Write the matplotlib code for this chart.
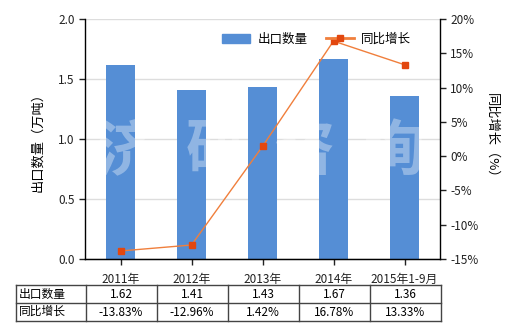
import matplotlib
matplotlib.use("Agg")
import matplotlib.pyplot as plt
from matplotlib.lines import Line2D
from matplotlib.patches import Patch

plt.rcParams['font.family'] = ['Noto Sans CJK SC', 'DejaVu Sans']

categories = ["2011年", "2012年", "2013年", "2014年", "2015年1-9月"]
export_qty = [1.62, 1.41, 1.43, 1.67, 1.36]
yoy_growth = [-13.83, -12.96, 1.42, 16.78, 13.33]
qty_labels = ["1.62", "1.41", "1.43", "1.67", "1.36"]
growth_labels = ["-13.83%", "-12.96%", "1.42%", "16.78%", "13.33%"]
series_names = ["出口数量", "同比增长"]

W, H = 520, 330
fig = plt.figure(figsize=(W / 100, H / 100), dpi=100)
ax = fig.add_axes([85 / W, 1 - 259 / H, 355 / W, 240 / H])
ax2 = ax.twinx()

bar_color = "#558ED5"
line_color = "#F07F3C"
marker_color = "#E2470F"

x = list(range(len(categories)))
ax.bar(x, export_qty, width=0.41, color=bar_color, zorder=2)
ax.set_ylim(0, 2.0)
ax.set_yticks([0, 0.5, 1.0, 1.5, 2.0])
ax.set_yticklabels(["0.0", "0.5", "1.0", "1.5", "2.0"])
ax.set_xlim(-0.5, len(categories) - 0.5)
ax.set_xticks(x)
ax.set_xticklabels(categories)
ax.grid(axis='y', color='#DDDDDD', linewidth=1, zorder=0)
ax.set_axisbelow(True)

ax2.plot(x, yoy_growth, color=line_color, linewidth=1, marker='s', markersize=5,
         markerfacecolor=marker_color, markeredgecolor=marker_color, zorder=5)
ax2.set_ylim(-15, 20)
ax2.set_yticks(range(-15, 21, 5))
ax2.set_yticklabels([f"{v}%" for v in range(-15, 21, 5)])

for a in (ax, ax2):
    a.spines['top'].set_visible(False)
    a.tick_params(labelsize=8.5, length=4, width=1, colors='#222222')
ax.spines['right'].set_visible(False)
ax2.spines['left'].set_visible(False)
for s in ('left', 'bottom'):
    ax.spines[s].set_linewidth(1)
ax2.spines['right'].set_linewidth(1)
ax.tick_params(axis='x', pad=6)

ax.set_ylabel("出口数量（万吨）", fontsize=9.5, labelpad=10)
ax2.set_ylabel("同比增长（%）", fontsize=9.5, rotation=-90, labelpad=14)

# watermark
wm = "济研咨询"
for i, ch in enumerate(wm):
    fig.text((127 + i * 89) / W, 1 - 152 / H, ch, fontsize=44, fontweight='bold',
             color='white', alpha=0.35, ha='center', va='center', zorder=10)

handles = [Patch(color=bar_color),
           Line2D([0], [0], color=line_color, linewidth=2, marker='s', markersize=5,
                  markerfacecolor=marker_color, markeredgecolor=marker_color)]
ax2.legend(handles, series_names, loc='upper right', bbox_to_anchor=(0.95, 0.99),
           ncol=2, frameon=False, fontsize=9, handlelength=2.2, columnspacing=1.5,
           handletextpad=0.6)

# table
left, first, colw = 15.5, 85.5, 71
top, mid, bot = 285, 303, 320.5
right = first + colw * len(categories)
lc = '#444444'
def fx(px): return px / W
def fy(py): return 1 - py / H
for py in (top, mid, bot):
    fig.add_artist(Line2D([fx(left), fx(right)], [fy(py), fy(py)], color=lc, linewidth=1))
for px in [left, first] + [first + colw * (i + 1) for i in range(len(categories))]:
    fig.add_artist(Line2D([fx(px), fx(px)], [fy(top), fy(bot)], color=lc, linewidth=1))
fig.text(fx(left + 3), fy((top + mid) / 2), series_names[0], fontsize=8.5, va='center', ha='left')
fig.text(fx(left + 3), fy((mid + bot) / 2), series_names[1], fontsize=8.5, va='center', ha='left')
for i in range(len(categories)):
    cx = first + colw * (i + 0.5)
    fig.text(fx(cx), fy((top + mid) / 2 + 1), qty_labels[i], fontsize=8.5, va='center', ha='center')
    fig.text(fx(cx), fy((mid + bot) / 2 + 1), growth_labels[i], fontsize=8.5, va='center', ha='center')

fig.savefig("out.png", dpi=100)
